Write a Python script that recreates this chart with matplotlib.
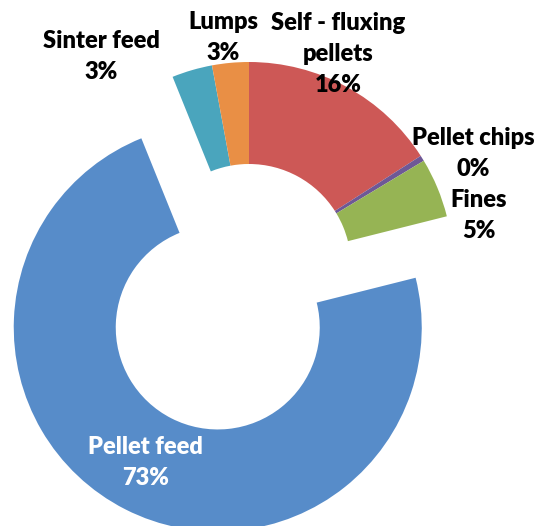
import matplotlib.pyplot as plt

# shares, clockwise from 12 o'clock
categories = ['Self - fluxing\npellets', 'Pellet chips', 'Fines',
              'Pellet feed', 'Sinter feed', 'Lumps']
shares = [15.9, 0.45, 4.7, 72.7, 3.2, 2.9]
pct_labels = ['16%', '0%', '5%', '73%', '3%', '3%']
colors = ['#CD5856', '#6E5896', '#96B454', '#578CC9', '#4AA5BD', '#E98F45']
explode = [0, 0, 0, 0.338, 0, 0]

# label positions in axes fraction (x from left, y from bottom)
label_pos = [(0.628, 0.897), (0.879, 0.709), (0.890, 0.591),
             (0.271, 0.121), (0.188, 0.892), (0.415, 0.928)]

plt.rcParams['font.family'] = ['Lato', 'DejaVu Sans']

fig = plt.figure(figsize=(5.38, 5.26), dpi=100)
ax = fig.add_axes([0, 0, 1, 1])
ax.pie(shares, colors=colors, explode=explode, startangle=90,
       counterclock=False, radius=1,
       wedgeprops=dict(width=0.5, linewidth=0))
ax.set_xlim(-249 / 204, 289 / 204)
ax.set_ylim(-260 / 204, 266 / 204)
ax.set_aspect('equal')
ax.axis('off')

for name, pct, (x, y) in zip(categories, pct_labels, label_pos):
    col = 'white' if name == 'Pellet feed' else 'black'
    ax.text(x, y, f'{name}\n{pct}', transform=ax.transAxes, ha='center',
            va='center', fontsize=17, fontweight='heavy', color=col,
            linespacing=1.5)

fig.savefig('out.png', dpi=100)
